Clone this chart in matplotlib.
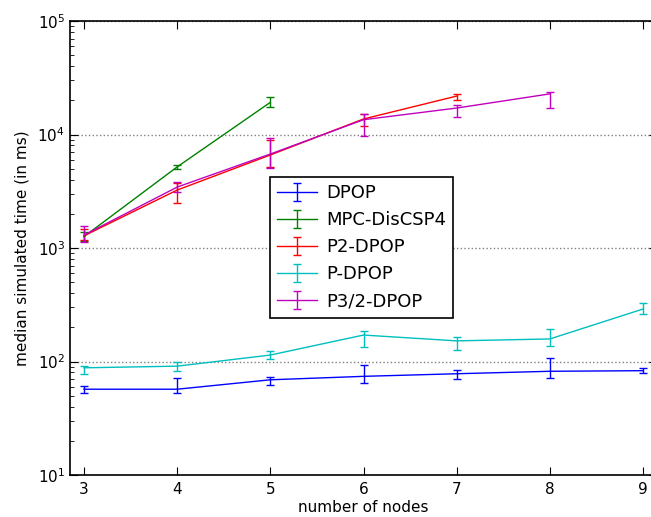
import numpy as np
import matplotlib
matplotlib.use("Agg")
import matplotlib.pyplot as plt

nodes_dpop = [3, 4, 5, 6, 7, 8, 9]
dpop = [57, 57, 69, 74, 78, 82, 83]
dpop_lo = [53, 53, 62, 65, 70, 72, 79]
dpop_hi = [61, 72, 73, 94, 85, 107, 88]

nodes_mpc = [3, 4, 5]
mpc = [1260, 5180, 19200]
mpc_lo = [1150, 4950, 17500]
mpc_hi = [1380, 5400, 21200]

nodes_p2 = [3, 4, 5, 6, 7]
p2 = [1280, 3240, 6600, 13700, 21800]
p2_lo = [1180, 2490, 5200, 12000, 20000]
p2_hi = [1470, 3720, 9000, 15100, 22900]

nodes_p = [3, 4, 5, 6, 7, 8, 9]
pdpop = [88, 91, 114, 171, 152, 158, 290]
pdpop_lo = [77, 83, 105, 133, 127, 138, 262]
pdpop_hi = [92, 100, 123, 186, 164, 193, 329]

nodes_p32 = [3, 4, 5, 6, 7, 8]
p32 = [1300, 3440, 6730, 13500, 17100, 22800]
p32_lo = [1130, 3110, 5070, 9700, 14300, 17100]
p32_hi = [1560, 3810, 9310, 15300, 18200, 23800]

series = [
    ("DPOP", nodes_dpop, dpop, dpop_lo, dpop_hi, (0, 0, 1)),
    ("MPC-DisCSP4", nodes_mpc, mpc, mpc_lo, mpc_hi, (0, 0.5, 0)),
    ("P2-DPOP", nodes_p2, p2, p2_lo, p2_hi, (1, 0, 0)),
    ("P-DPOP", nodes_p, pdpop, pdpop_lo, pdpop_hi, (0, 0.75, 0.75)),
    ("P3/2-DPOP", nodes_p32, p32, p32_lo, p32_hi, (0.75, 0, 0.75)),
]

W, H = 651, 517
fig = plt.figure(figsize=(W / 100, H / 100), dpi=100)
fig.patch.set_facecolor("white")
ax = fig.add_axes([70 / W, (H - 475) / H, 587 / W, 454 / H])

for name, x, y, lo, hi, col in series:
    y = np.array(y, float)
    err = np.vstack([y - np.array(lo, float), np.array(hi, float) - y])
    ax.errorbar(x, y, yerr=err, color=col, lw=1.0, elinewidth=1.0,
                capsize=3, capthick=1.0, label=name)

ax.set_yscale("log")
ax.set_ylim(10, 1e5)
ax.set_xlim(2.85, 9.15)
ax.set_xticks([3, 4, 5, 6, 7, 8, 9])
ax.yaxis.grid(True, which="major", linestyle=":", color="0.5", lw=1)
ax.tick_params(which="both", direction="in", top=True, right=True, labelsize=11)
ax.tick_params(which="major", length=6)
ax.tick_params(which="minor", length=3)
ax.tick_params(axis="x", pad=5)
for s in ax.spines.values():
    s.set_linewidth(1.2)
ax.set_xlabel("number of nodes", fontsize=11, labelpad=2)
ax.set_ylabel("median simulated time (in ms)", fontsize=11, labelpad=6)

leg = ax.legend(loc="upper left", bbox_to_anchor=(270 / W, 1 - 177 / H),
                bbox_transform=fig.transFigure, borderaxespad=0,
                fontsize=13, fancybox=False, framealpha=1, edgecolor="black",
                handlelength=2.2, handletextpad=0.5, labelspacing=0.5,
                borderpad=0.4)
leg.get_frame().set_linewidth(1.2)

fig.savefig("out.png", dpi=100, facecolor="white")
